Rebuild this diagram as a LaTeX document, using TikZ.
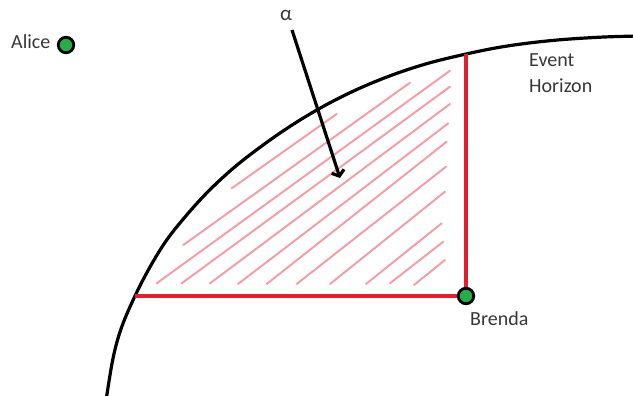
\documentclass[tikz,border=0pt]{standalone}
\usepackage{fontspec}
\setmainfont{Carlito}
\usetikzlibrary{arrows.meta}
\definecolor{redl}{RGB}{228,30,45}
\definecolor{hatchc}{RGB}{242,160,166}
\definecolor{dotg}{RGB}{38,172,72}
\definecolor{txt}{RGB}{55,55,55}
\begin{document}
\begin{tikzpicture}[x=1pt,y=-1pt,
  lbl/.style={font=\fontsize{20}{24}\selectfont, text=txt, inner sep=0pt},
  dot/.style={circle, fill=dotg, draw=black, line width=2.8pt, minimum size=15.5pt, inner sep=0pt},
  arcline/.style={line width=3.2pt, black},
  rline/.style={line width=3.2pt, redl},
  hline/.style={line width=2pt, hatchc, line cap=round},
  ptr/.style={line width=3.2pt, black, -{Straight Barb[length=5pt,width=13pt]}}]
\useasboundingbox (0,0) rectangle (633,396);
% hatching
\foreach \xa/\ya/\xb/\yb in {
  231.7/188.3/336.7/114,
  183.3/245/410/82.7,
  156.7/283.3/450/70.7,
  181.7/283.3/450/86.7,
  210/283.3/450/104,
  238/284/448.3/123.3,
  266.7/284/446.7/141.7,
  296.7/284/446/166.7,
  330/284/445/191.7,
  366/284/441.7/223.3,
  390/283.3/443.3/241.7,
  414/285/445/260}
  \draw[hline] (\xa,\ya) -- (\xb,\yb);
% event horizon arc
\draw[arcline] plot[smooth, tension=0.6] coordinates {(105.5,405) (106.7,396) (113.3,357) (121.7,327) (135,296) (150,267) (166.7,240) (186.7,215) (206.7,193) (228,172.8) (250,154.8) (283,131) (317,109.9) (350,92.7) (383,78.5) (417,66.6) (450,57.7) (500,47.2) (550,40.7) (600,37.2) (640,36)};
% red right angle
\coordinate (rtop) at (466,54);
\coordinate (rleft) at (135,296);
\coordinate (corner) at (466,296);
\draw[rline] (rtop) -- (corner) -- (rleft);
% dots
\node[dot] (alice) at (66,45) {};
\node[dot] (brenda) at (corner) {};
% labels
\node[lbl, anchor=base west] (alicelbl) at (11,48.5) {Alice};
\node[lbl, anchor=base west] (brendalbl) at (470,325) {Brenda};
\node[lbl, anchor=base west] (ev1) at (529,66.7) {Event};
\node[lbl, anchor=base west] (ev2) at (529,92.7) {Horizon};
\node[lbl, font=\fontsize{21}{24}\selectfont] (alpha) at (286,15) {α};
% arrow
\coordinate (astart) at (292,30);
\coordinate (atip) at (340,178);
\draw[ptr] (astart) -- (atip);
\end{tikzpicture}
\end{document}
